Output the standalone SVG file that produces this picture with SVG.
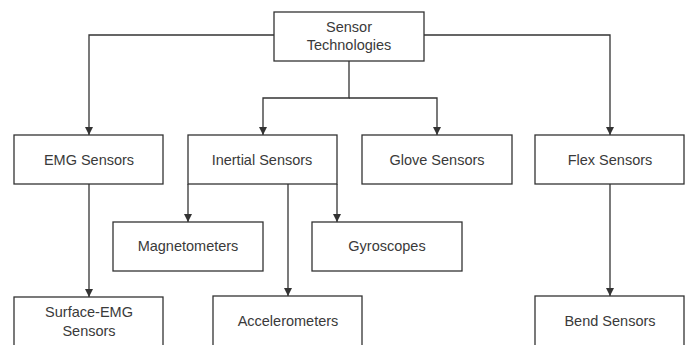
<svg xmlns="http://www.w3.org/2000/svg" width="691" height="345" viewBox="0 0 691 345">
<style>
.box{fill:#fff;stroke:#333;stroke-width:1.3}
.lbl{font-family:"Liberation Sans",Arial,sans-serif;font-size:14.5px;fill:#3a3a3a;text-anchor:middle;dominant-baseline:central}
.edge{fill:none;stroke:#333;stroke-width:1.3}
</style>
<defs>
<marker id="arr" viewBox="0 0 10 10" refX="10" refY="5" markerWidth="8" markerHeight="8" markerUnits="userSpaceOnUse" orient="auto">
<path d="M0,0 L10,5 L0,10 Z" fill="#333"/>
</marker>
</defs>
<rect width="691" height="345" fill="#fff"/>
<g id="connectors">
<path class="edge" d="M274,35 H89 V135" marker-end="url(#arr)"/>
<path class="edge" d="M349,61 V98 H263 V135" marker-end="url(#arr)"/>
<path class="edge" d="M349,98 H437 V135" marker-end="url(#arr)"/>
<path class="edge" d="M424,35 H610 V135" marker-end="url(#arr)"/>
<path class="edge" d="M89,184 V297" marker-end="url(#arr)"/>
<path class="edge" d="M188,184 V222" marker-end="url(#arr)"/>
<path class="edge" d="M288,184 V296" marker-end="url(#arr)"/>
<path class="edge" d="M337,184 V222" marker-end="url(#arr)"/>
<path class="edge" d="M610,184 V296" marker-end="url(#arr)"/>
</g>
<g id="sensor-technologies"><rect class="box" x="274" y="12" width="150" height="49"/><text class="lbl" x="349" y="27">Sensor</text><text class="lbl" x="349" y="45">Technologies</text></g>
<g id="emg"><rect class="box" x="14" y="135" width="149" height="49"/><text class="lbl" x="89" y="160">EMG Sensors</text></g>
<g id="inertial"><rect class="box" x="188" y="135" width="149" height="49"/><text class="lbl" x="262" y="160">Inertial Sensors</text></g>
<g id="glove"><rect class="box" x="362" y="135" width="150" height="49"/><text class="lbl" x="437" y="160">Glove Sensors</text></g>
<g id="flex"><rect class="box" x="535" y="135" width="149" height="49"/><text class="lbl" x="610" y="160">Flex Sensors</text></g>
<g id="magnetometers"><rect class="box" x="113" y="222" width="150" height="49"/><text class="lbl" x="188" y="246">Magnetometers</text></g>
<g id="gyroscopes"><rect class="box" x="312" y="222" width="150" height="49"/><text class="lbl" x="387" y="246">Gyroscopes</text></g>
<g id="surface-emg"><rect class="box" x="14" y="297" width="149" height="49"/><text class="lbl" x="89" y="312">Surface-EMG</text><text class="lbl" x="89" y="331">Sensors</text></g>
<g id="accelerometers"><rect class="box" x="213" y="296" width="149" height="50"/><text class="lbl" x="288" y="321">Accelerometers</text></g>
<g id="bend"><rect class="box" x="535" y="296" width="149" height="50"/><text class="lbl" x="610" y="321">Bend Sensors</text></g>
</svg>
